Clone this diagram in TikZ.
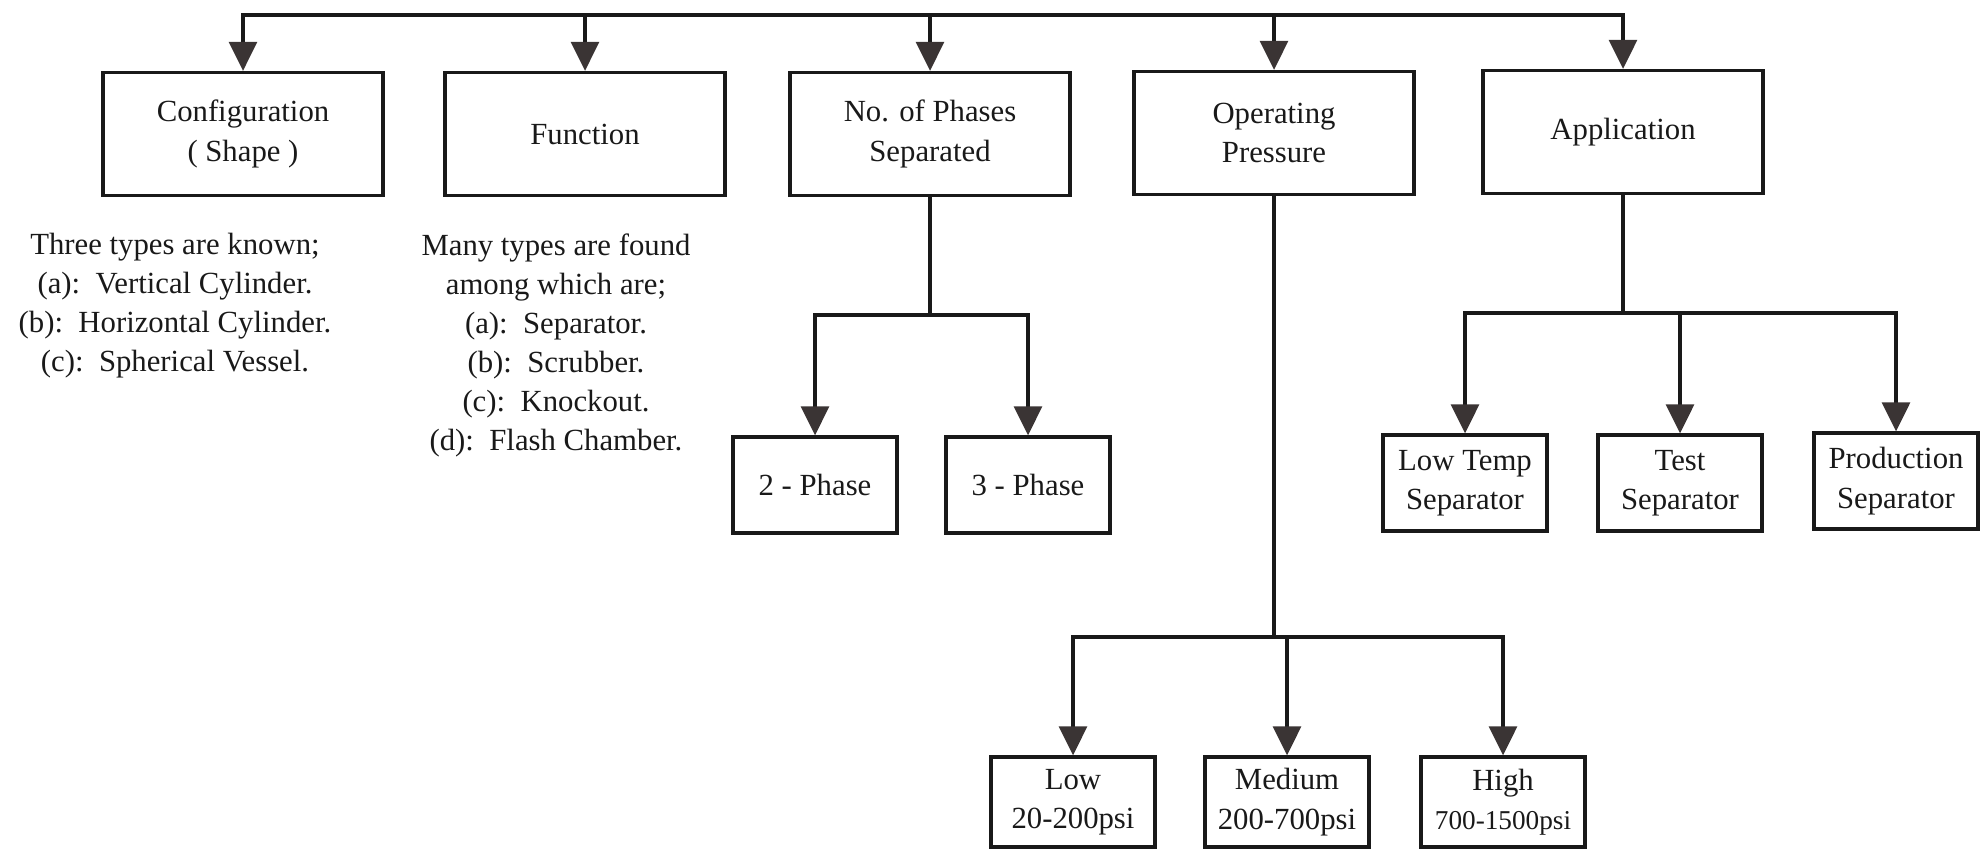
\documentclass[tikz,border=0pt]{standalone}
\usepackage{fontspec}
\setmainfont{Liberation Serif}
\usetikzlibrary{arrows.meta}
\definecolor{tipgray}{HTML}{3A3434}

\begin{document}
\begin{tikzpicture}[x=0.02cm, y=-0.02cm,
    box/.style={draw=black!90, line width=1.9pt, align=center, inner sep=0pt,
      minimum width=5.6cm, minimum height=2.46cm, text=black!90,
      font=\fontsize{17.5}{22.5}\selectfont},
    smallbox/.style={box, minimum width=3.28cm, minimum height=1.92cm},
    lowbox/.style={box, minimum width=3.28cm, minimum height=1.8cm},
    note/.style={align=center, inner sep=0pt, text=black!90,
      font=\fontsize{17.5}{22.2}\selectfont},
    link/.style={line width=1.8pt, draw=black!90, line cap=rect},
    arr/.style={link, line cap=butt, -{Triangle[width=0.56cm, length=0.58cm, color=tipgray]}}]
  \useasboundingbox (0,0) rectangle (1988,850);

  % top row
  \node[box] (conf) at (243,134) {Configuration\\( Shape )};
  \node[box] (func) at (585,134) {Function};
  \node[box] (phases) at (930,134) {No. of Phases\\Separated};
  \node[box] (oper) at (1274,133) {Operating\\Pressure};
  \node[box] (appl) at (1623,132) {Application};

  % notes under the first two boxes
  \node[note] (shapenote) at (175,306) {Three types are known;\\(a):\ \ Vertical Cylinder.\\(b):\ \ Horizontal Cylinder.\\(c):\ \ Spherical Vessel.};
  \node[note] (funcnote) at (556,345) {Many types are found\\among which are;\\(a):\ \ Separator.\\(b):\ \ Scrubber.\\(c):\ \ Knockout.\\(d):\ \ Flash Chamber.};

  % second row
  \node[smallbox] (two) at (815,485) {2 - Phase};
  \node[smallbox] (three) at (1028,485) {3 - Phase};
  \node[smallbox] (lowtemp) at (1465,483) {Low Temp\\Separator};
  \node[smallbox] (test) at (1680,483) {Test\\Separator};
  \node[smallbox] (prod) at (1896,481) {Production\\Separator};

  % pressure ranges
  \node[lowbox] (low) at (1073,802) {Low\\20-200psi};
  \node[lowbox] (med) at (1287,802) {Medium\\200-700psi};
  \node[lowbox] (high) at (1503,802) {High\\\fontsize{15.5}{20}\selectfont 700-1500psi};

  \coordinate (bus) at (0,15);
  \coordinate (phasesbr) at (0,315);
  \coordinate (applbr) at (0,313);
  \coordinate (operbr) at (0,637);

  % main bus
  \draw[link] (conf.north |- bus) -- (appl.north |- bus);
  \foreach \n in {conf,func,phases,oper,appl}
    \draw[arr] (\n.north |- bus) -- (\n.north);

  % phases
  \draw[link] (phases.south) -- (phases.south |- phasesbr);
  \draw[link] (two.north |- phasesbr) -- (three.north |- phasesbr);
  \foreach \n in {two,three}
    \draw[arr] (\n.north |- phasesbr) -- (\n.north);

  % application
  \draw[link] (appl.south) -- (appl.south |- applbr);
  \draw[link] (lowtemp.north |- applbr) -- (prod.north |- applbr);
  \foreach \n in {lowtemp,test,prod}
    \draw[arr] (\n.north |- applbr) -- (\n.north);

  % operating pressure
  \draw[link] (oper.south) -- (oper.south |- operbr);
  \draw[link] (low.north |- operbr) -- (high.north |- operbr);
  \foreach \n in {low,med,high}
    \draw[arr] (\n.north |- operbr) -- (\n.north);
\end{tikzpicture}
\end{document}
